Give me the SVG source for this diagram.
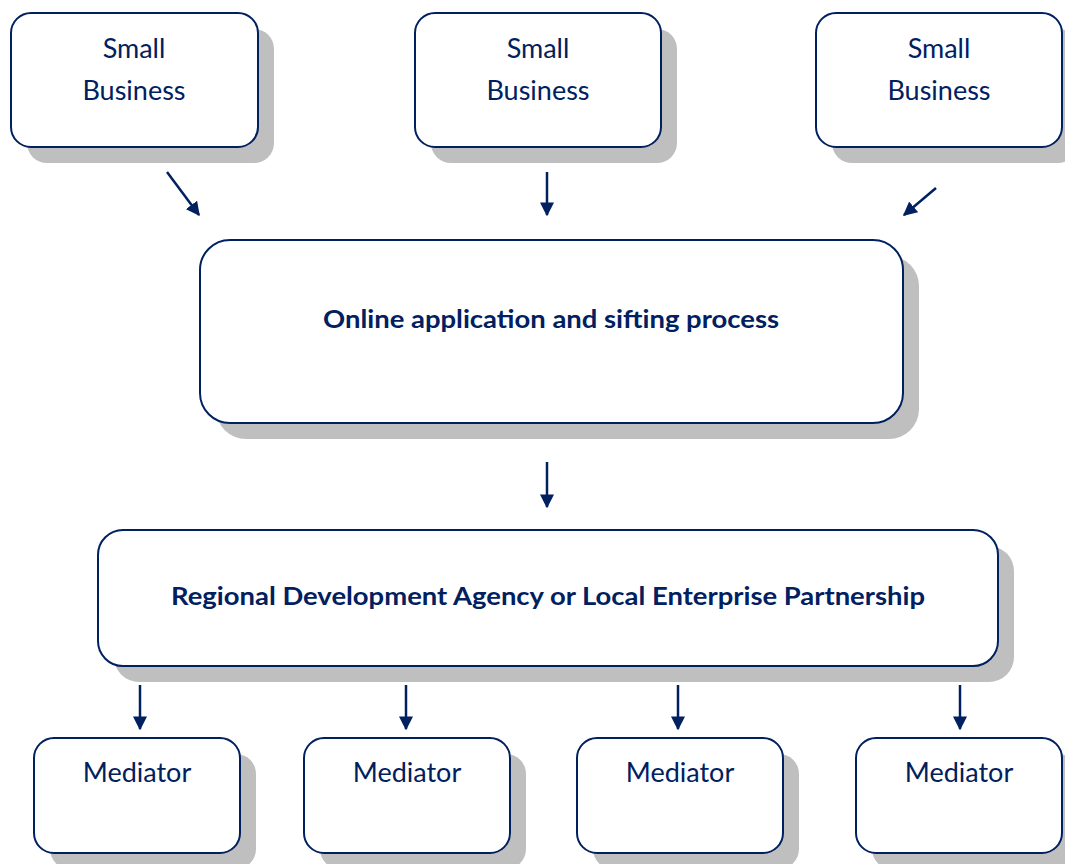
<svg xmlns="http://www.w3.org/2000/svg" width="1065" height="864" viewBox="0 0 1065 864">
  <defs>
    <marker id="arrow" viewBox="0 0 10 10" refX="9" refY="5" markerWidth="5.6" markerHeight="5.6" orient="auto" markerUnits="strokeWidth">
      <path d="M0,0 L10,5 L0,10 Z" fill="#002060"/>
    </marker>
    <style>
      .shadow { fill: #bfbfbf; }
      .box { fill: #ffffff; stroke: #002060; stroke-width: 2; }
      .label { font-family: Lato, "Open Sans", sans-serif; font-size: 27px; fill: #002060; text-anchor: middle; }
      .title { font-family: Lato, "Open Sans", sans-serif; font-size: 24px; font-weight: bold; fill: #002060; text-anchor: middle; }
      .conn { stroke: #002060; stroke-width: 2.5; fill: none; marker-end: url(#arrow); }
    </style>
  </defs>

  <!-- Small business sources -->
  <g id="business-1">
    <rect class="shadow" x="27" y="29" width="247" height="134" rx="20"/>
    <rect class="box" x="11" y="13" width="247" height="134" rx="20"/>
    <text class="label" x="134" y="58">Small</text>
    <text class="label" x="134" y="100">Business</text>
  </g>
  <g id="business-2">
    <rect class="shadow" x="431" y="29" width="246" height="134" rx="20"/>
    <rect class="box" x="415" y="13" width="246" height="134" rx="20"/>
    <text class="label" x="538" y="58">Small</text>
    <text class="label" x="538" y="100">Business</text>
  </g>
  <g id="business-3">
    <rect class="shadow" x="832" y="29" width="246" height="134" rx="20"/>
    <rect class="box" x="816" y="13" width="246" height="134" rx="20"/>
    <text class="label" x="939" y="58">Small</text>
    <text class="label" x="939" y="100">Business</text>
  </g>

  <!-- Central intake -->
  <g id="online-process">
    <rect class="shadow" x="216" y="256" width="703" height="183" rx="30"/>
    <rect class="box" x="200" y="240" width="703" height="183" rx="30"/>
    <text class="title" x="551" y="328" textLength="456" lengthAdjust="spacingAndGlyphs">Online application and sifting process</text>
  </g>

  <g id="agency">
    <rect class="shadow" x="114" y="546" width="900" height="136" rx="25"/>
    <rect class="box" x="98" y="530" width="900" height="136" rx="25"/>
    <text class="title" x="548" y="605" textLength="754" lengthAdjust="spacingAndGlyphs">Regional Development Agency or Local Enterprise Partnership</text>
  </g>

  <!-- Mediators -->
  <g id="mediator-1">
    <rect class="shadow" x="50" y="754" width="206" height="115" rx="20"/>
    <rect class="box" x="34" y="738" width="206" height="115" rx="20"/>
    <text class="label" x="137" y="782">Mediator</text>
  </g>
  <g id="mediator-2">
    <rect class="shadow" x="320" y="754" width="206" height="115" rx="20"/>
    <rect class="box" x="304" y="738" width="206" height="115" rx="20"/>
    <text class="label" x="407" y="782">Mediator</text>
  </g>
  <g id="mediator-3">
    <rect class="shadow" x="593" y="754" width="206" height="115" rx="20"/>
    <rect class="box" x="577" y="738" width="206" height="115" rx="20"/>
    <text class="label" x="680" y="782">Mediator</text>
  </g>
  <g id="mediator-4">
    <rect class="shadow" x="872" y="754" width="206" height="115" rx="20"/>
    <rect class="box" x="856" y="738" width="206" height="115" rx="20"/>
    <text class="label" x="959" y="782">Mediator</text>
  </g>

  <!-- Connectors -->
  <g id="connectors">
    <line class="conn" x1="167" y1="172" x2="199" y2="215"/>
    <line class="conn" x1="547" y1="172" x2="547" y2="215"/>
    <line class="conn" x1="936" y1="188" x2="904" y2="215"/>
    <line class="conn" x1="547" y1="462" x2="547" y2="507"/>
    <line class="conn" x1="140" y1="685" x2="140" y2="729"/>
    <line class="conn" x1="406" y1="685" x2="406" y2="729"/>
    <line class="conn" x1="678" y1="685" x2="678" y2="729"/>
    <line class="conn" x1="960" y1="685" x2="960" y2="729"/>
  </g>
</svg>
